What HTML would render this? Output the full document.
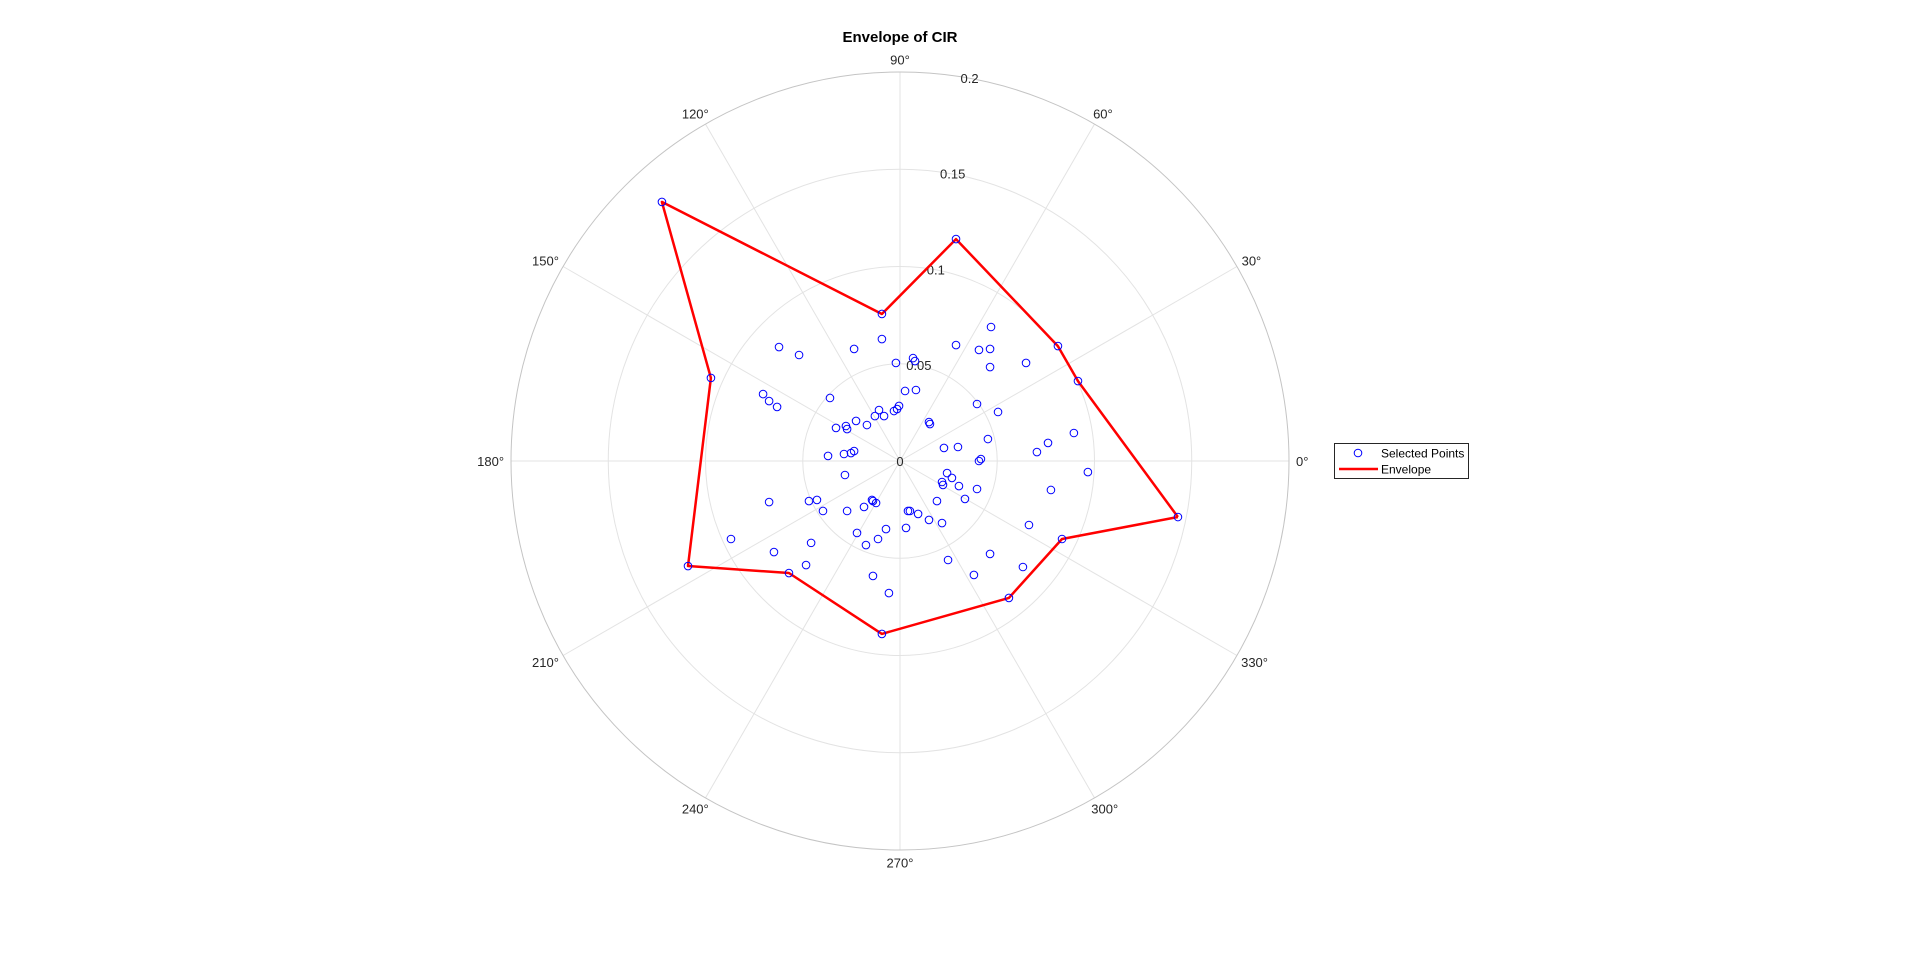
<!DOCTYPE html>
<html><head><meta charset="utf-8"><title>Envelope of CIR</title>
<style>
html,body{margin:0;padding:0;background:#fff;}
svg{display:block;font-family:"Liberation Sans",Arial,sans-serif;}
</style></head>
<body>
<svg id="chart" width="1920" height="955" viewBox="0 0 1920 955" xmlns="http://www.w3.org/2000/svg">
<text x="900" y="42" text-anchor="middle" font-size="15" font-weight="bold" fill="#000">Envelope of CIR</text>
<g id="grid"></g>
<g id="labels"></g>
<g id="envelope"></g>
<g id="points"></g>
<g>
<rect x="1334.5" y="443.5" width="134" height="35" fill="#fff" stroke="#262626" stroke-width="1"/>
<circle cx="1358" cy="453" r="3.8" fill="none" stroke="#0000ff" stroke-width="1"/>
<text x="1381" y="457.5" font-size="12" fill="#000">Selected Points</text>
<line x1="1339" y1="469" x2="1378" y2="469" stroke="#ff0000" stroke-width="2.5"/>
<text x="1381" y="473.5" font-size="12" fill="#000">Envelope</text>
</g>
</svg>
<script>
// CIR samples (real / imaginary parts)
const pointsRe = [-0.0093,-0.0622,-0.0519,-0.0236,-0.0021,0.0026,-0.0704,-0.0673,-0.0632,-0.0360,-0.0108,-0.0082,-0.0129,-0.0031,-0.0015,-0.0005,-0.0226,-0.0170,-0.0329,-0.0278,-0.0272,-0.0370,-0.0288,-0.0252,-0.0236,0.0468,0.0288,0.0406,0.0463,0.0067,0.0077,0.0463,0.0648,0.0082,0.0396,0.0504,0.0149,0.0154,0.0452,0.0894,0.0761,0.0704,0.0226,0.0298,0.0406,0.0416,-0.0283,-0.0673,-0.0468,-0.0427,-0.0396,-0.0272,-0.0185,-0.0144,-0.0139,-0.0123,0.0041,0.0031,-0.0072,-0.0221,-0.0113,-0.0175,-0.0457,-0.0648,-0.0483,-0.0139,-0.0057,0.0966,0.0776,0.0242,0.0267,0.0216,0.0221,0.0303,0.0396,0.0190,0.0334,0.0051,0.0093,0.0149,0.0216,0.0663,0.0463,0.0247,0.0632,0.0380,-0.0869,0.1429,0.0833,0.0560,-0.0093,-0.0571,-0.1090,-0.0972,-0.1224,-0.0093,0.0288,0.0812,0.0915];
const pointsIm = [0.0627,0.0586,0.0545,0.0576,0.0504,0.0360,0.0344,0.0308,0.0278,0.0324,0.0262,0.0231,0.0231,0.0257,0.0267,0.0283,0.0206,0.0185,0.0170,0.0180,0.0164,0.0026,0.0036,0.0041,0.0051,0.0689,0.0596,0.0571,0.0576,0.0529,0.0514,0.0483,0.0504,0.0365,0.0293,0.0252,0.0200,0.0190,0.0113,0.0144,0.0093,0.0046,0.0067,0.0072,0.0000,0.0010,-0.0072,-0.0211,-0.0206,-0.0200,-0.0257,-0.0257,-0.0236,-0.0200,-0.0206,-0.0216,-0.0257,-0.0344,-0.0350,-0.0370,-0.0401,-0.0432,-0.0421,-0.0468,-0.0535,-0.0591,-0.0679,-0.0057,-0.0149,-0.0062,-0.0087,-0.0108,-0.0123,-0.0129,-0.0144,-0.0206,-0.0195,-0.0257,-0.0272,-0.0303,-0.0319,-0.0329,-0.0478,-0.0509,-0.0545,-0.0586,-0.0401,-0.0288,-0.0401,-0.0704,-0.0889,-0.0576,-0.0540,0.0427,0.1332,0.0756,0.1141,0.0591,0.0411];
// Envelope vertices
const envRe = [0.1429,0.0833,0.0560,-0.0093,-0.0571,-0.1090,-0.0972,-0.1224,-0.0093,0.0288,0.0812,0.0915];
const envIm = [-0.0288,-0.0401,-0.0704,-0.0889,-0.0576,-0.0540,0.0427,0.1332,0.0756,0.1141,0.0591,0.0411];
// Axis ticks
const rTicks = [0.05,0.1,0.15,0.2];
const rTickLabels = ["0.05","0.1","0.15","0.2"];
const thetaTicks = [0,30,60,90,120,150,180,210,240,270,300,330];
const thetaTickLabels = ["0°","30°","60°","90°","120°","150°","180°","210°","240°","270°","300°","330°"];

const NS = "http://www.w3.org/2000/svg";
const CX = 900, CY = 461, RMAX = 0.2, RPX = 389;
function rScale(v){ return v / RMAX * RPX; }
function px(re){ return CX + rScale(re); }
function py(im){ return CY - rScale(im); }
function polX(r, deg){ return CX + rScale(r) * Math.cos(deg*Math.PI/180); }
function polY(r, deg){ return CY - rScale(r) * Math.sin(deg*Math.PI/180); }
function mk(tag, attrs){ const e = document.createElementNS(NS, tag); for (const k in attrs) e.setAttribute(k, attrs[k]); return e; }

const grid = document.getElementById('grid');
const labels = document.getElementById('labels');
thetaTicks.forEach((t, i) => {
  const l = mk('line', {x1: CX, y1: CY, x2: polX(RMAX, t), y2: polY(RMAX, t), stroke: '#e3e3e3', 'stroke-width': 1});
  
  
  grid.appendChild(l);
  const c = Math.cos(t*Math.PI/180), s = Math.sin(t*Math.PI/180);
  const hw = thetaTickLabels[i].length * 3.6, hh = 6.5;
  const lx = CX + (RPX + 6) * c + c * hw;
  const ly = CY - (RPX + 6) * s - s * hh;
  const tx = mk('text', {x: lx, y: ly + 5, 'text-anchor': 'middle', 'font-size': 13, fill: '#262626'});
  tx.textContent = thetaTickLabels[i];
  
  
  labels.appendChild(tx);
});
rTicks.forEach((r, i) => {
  const c = mk('circle', {cx: CX, cy: CY, r: rScale(r), fill: 'none', stroke: i === rTicks.length-1 ? '#c4c4c4' : '#e3e3e3', 'stroke-width': 1});
  
  
  grid.appendChild(c);
  const tx = mk('text', {x: polX(r, 80) + 2, y: polY(r, 80) + 5, 'text-anchor': 'middle', 'font-size': 13, fill: '#262626'});
  tx.textContent = rTickLabels[i];
  
  
  labels.appendChild(tx);
});
const z = mk('text', {x: CX, y: CY + 5, 'text-anchor': 'middle', 'font-size': 13, fill: '#262626'});
z.textContent = '0';


labels.appendChild(z);

const env = document.getElementById('envelope');
let pts = envRe.map((re, i) => px(re).toFixed(1) + ',' + py(envIm[i]).toFixed(1));
pts.push(pts[0]);
const pl = mk('polyline', {points: pts.join(' '), fill: 'none', stroke: '#ff0000', 'stroke-width': 2.5, 'stroke-linejoin': 'round'});


env.appendChild(pl);

const pg = document.getElementById('points');
pointsRe.forEach((re, i) => {
  const c = mk('circle', {cx: px(re), cy: py(pointsIm[i]), r: 3.8, fill: 'none', stroke: '#0000ff', 'stroke-width': 1});
  
  
  pg.appendChild(c);
});
</script>
</body></html>
